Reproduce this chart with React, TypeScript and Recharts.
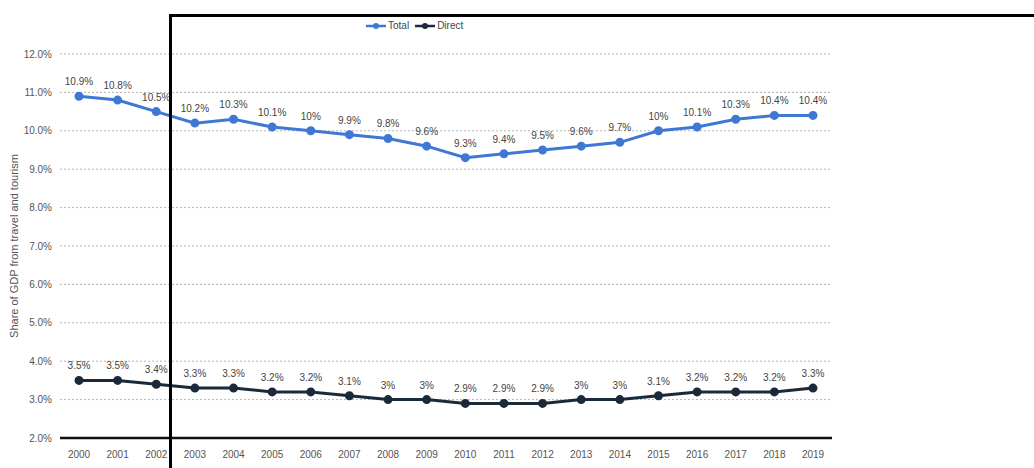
import React from 'react'
import {
  LineChart,
  Line,
  XAxis,
  YAxis,
  CartesianGrid,
  LabelList,
} from 'recharts'

const years = [
  '2000', '2001', '2002', '2003', '2004', '2005', '2006', '2007', '2008', '2009',
  '2010', '2011', '2012', '2013', '2014', '2015', '2016', '2017', '2018', '2019',
]
const total = [10.9, 10.8, 10.5, 10.2, 10.3, 10.1, 10, 9.9, 9.8, 9.6, 9.3, 9.4, 9.5, 9.6, 9.7, 10, 10.1, 10.3, 10.4, 10.4]
const direct = [3.5, 3.5, 3.4, 3.3, 3.3, 3.2, 3.2, 3.1, 3, 3, 2.9, 2.9, 2.9, 3, 3, 3.1, 3.2, 3.2, 3.2, 3.3]
const yTicks = [2, 3, 4, 5, 6, 7, 8, 9, 10, 11, 12]

const data = years.map((year, i) => ({ year, total: total[i], direct: direct[i] }))

const FONT = '"Liberation Sans Narrow", "Liberation Sans", Arial, sans-serif'
const BLUE = '#3f78d4'
const DARK = '#1b2a3a'

function LegendBox() {
  const items = [
    { name: 'Total', color: BLUE },
    { name: 'Direct', color: DARK },
  ]
  return (
    <div
      style={{
        position: 'absolute',
        top: 20,
        left: 366,
        display: 'flex',
        gap: 6,
        fontFamily: FONT,
        fontSize: 10,
        color: '#444',
      }}
    >
      {items.map((it) => (
        <div key={it.name} style={{ display: 'flex', alignItems: 'center', gap: 2 }}>
          <svg width={20} height={8}>
            <line x1={0} y1={4} x2={20} y2={4} stroke={it.color} strokeWidth={2.5} />
            <circle cx={10} cy={4} r={3} fill={it.color} />
          </svg>
          <span>{it.name}</span>
        </div>
      ))}
    </div>
  )
}

export default function App() {
  return (
    <div style={{ position: 'absolute', left: 0, top: 0, width: 1034, height: 468, background: '#fff' }}>
      <LineChart
        width={1034}
        height={468}
        data={data}
        margin={{ top: 54, right: 202, left: 0, bottom: 0 }}
      >
        <CartesianGrid
          vertical={false}
          stroke="#b5b5b5"
          strokeDasharray="2 2"
          horizontalValues={[3, 4, 5, 6, 7, 8, 9, 10, 11, 12]}
        />
        <XAxis
          dataKey="year"
          height={30}
          padding={{ left: 19, right: 19 }}
          axisLine={{ stroke: '#111', strokeWidth: 2.5 }}
          tickLine={false}
          tickMargin={7}
          tick={{ fontSize: 10, fill: '#555', fontFamily: FONT }}
          interval={0}
        />
        <YAxis
          width={60}
          domain={[2, 12]}
          ticks={yTicks}
          axisLine={false}
          tickLine={false}
          tickFormatter={(v: number) => `${v.toFixed(1)}%`}
          tick={{ fontSize: 10, fill: '#555', fontFamily: FONT }}
          label={{
            value: 'Share of GDP from travel and tourism',
            angle: -90,
            position: 'insideLeft',
            offset: 14,
            style: { fontSize: 11, fill: '#555', fontFamily: FONT, textAnchor: 'middle' },
          }}
        />
        <Line
          type="linear"
          dataKey="total"
          name="Total"
          stroke={BLUE}
          strokeWidth={3}
          dot={{ r: 3, fill: BLUE, stroke: BLUE }}
          isAnimationActive={false}
        >
          <LabelList
            dataKey="total"
            position="top"
            offset={11}
            formatter={(v: number) => `${v}%`}
            style={{ fontSize: 10, fill: '#444', fontFamily: FONT }}
          />
        </Line>
        <Line
          type="linear"
          dataKey="direct"
          name="Direct"
          stroke={DARK}
          strokeWidth={3}
          dot={{ r: 3, fill: DARK, stroke: DARK }}
          isAnimationActive={false}
        >
          <LabelList
            dataKey="direct"
            position="top"
            offset={11}
            formatter={(v: number) => `${v}%`}
            style={{ fontSize: 10, fill: '#444', fontFamily: FONT }}
          />
        </Line>
      </LineChart>
      <LegendBox />
      <div
        style={{
          position: 'absolute',
          left: 169,
          top: 14,
          width: 1034 - 169,
          height: 468 - 14,
          borderTop: '3px solid #000',
          borderLeft: '3px solid #000',
          boxSizing: 'border-box',
          pointerEvents: 'none',
        }}
      />
    </div>
  )
}
